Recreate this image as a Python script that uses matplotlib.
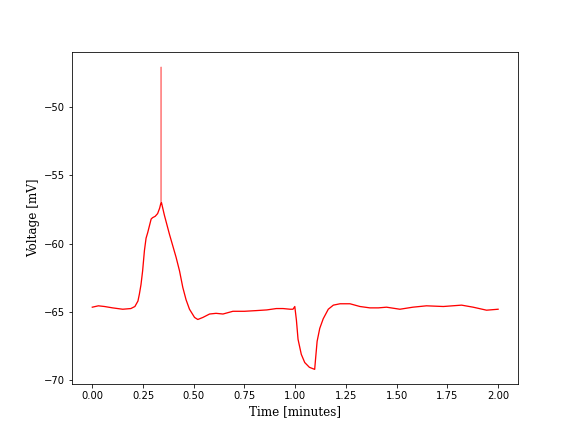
import matplotlib
matplotlib.use("Agg")
import matplotlib.pyplot as plt

# membrane voltage trace
time_min = [0.00, 0.03, 0.06, 0.10, 0.15, 0.19, 0.21, 0.225, 0.232, 0.240,
            0.248, 0.257, 0.265, 0.273, 0.290, 0.297, 0.310, 0.322, 0.332, 0.337,
            0.339, 0.341, 0.355, 0.380, 0.413, 0.430, 0.446, 0.462, 0.479, 0.504,
            0.520, 0.545, 0.578, 0.610, 0.644, 0.693, 0.750, 0.808, 0.860, 0.907,
            0.940, 0.975, 0.989, 0.998, 1.006, 1.014, 1.030, 1.047, 1.070, 1.096,
            1.100, 1.108, 1.121, 1.138, 1.163, 1.188, 1.221, 1.270, 1.319, 1.368,
            1.410, 1.450, 1.516, 1.580, 1.647, 1.730, 1.820, 1.877, 1.943, 2.000]
voltage_mv = [-64.65, -64.55, -64.60, -64.70, -64.80, -64.75, -64.60, -64.20, -63.70, -63.00,
              -62.00, -60.50, -59.60, -59.20, -58.20, -58.10, -58.00, -57.80, -57.40, -57.10,
              -47.07, -57.00, -57.90, -59.30, -61.00, -62.00, -63.20, -64.10, -64.80, -65.40,
              -65.55, -65.40, -65.15, -65.10, -65.15, -64.95, -64.95, -64.90, -64.85, -64.75,
              -64.75, -64.80, -64.80, -64.60, -65.60, -67.00, -68.10, -68.70, -69.05, -69.20,
              -68.50, -67.15, -66.20, -65.50, -64.80, -64.50, -64.40, -64.40, -64.60, -64.70,
              -64.70, -64.65, -64.80, -64.65, -64.55, -64.60, -64.50, -64.65, -64.87, -64.80]

spike = voltage_mv.index(max(voltage_mv))

fig, ax = plt.subplots(figsize=(8, 6), dpi=72)
# the action potential itself is one thin sample, drawn lighter
ax.plot(time_min[spike - 1:spike + 2], voltage_mv[spike - 1:spike + 2],
        color="red", linewidth=1.0, alpha=0.45)
ax.plot(time_min[:spike] + time_min[spike + 1:], voltage_mv[:spike] + voltage_mv[spike + 1:],
        color="red", linewidth=1.3)
ax.set_xlabel("Time [minutes]", family="DejaVu Serif", fontsize=12)
ax.set_ylabel("Voltage [mV]", family="DejaVu Serif", fontsize=12)
fig.savefig("out.png")
